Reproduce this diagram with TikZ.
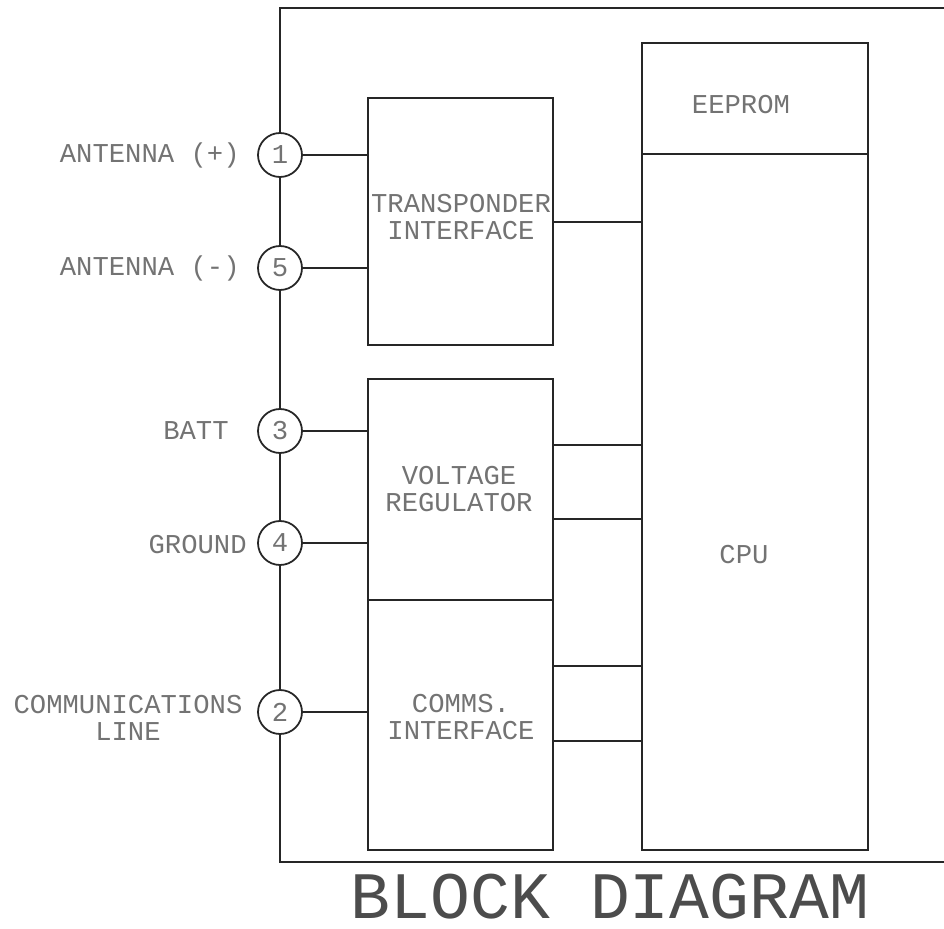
\documentclass[tikz,border=0pt]{standalone}
\usepackage{fontspec}
\setmonofont{Liberation Mono}
\usetikzlibrary{fit}
\newcommand{\dgmfont}{\ttfamily\fontsize{15.5pt}{15.4pt}\selectfont}
\newcommand{\ttlfont}{\ttfamily\fontsize{37.8pt}{40pt}\selectfont}
\tikzset{
  wire/.style={line width=1pt, black!85},
  blk/.style={draw=black!85, line width=1pt, inner sep=0pt},
  term/.style={draw=black!85, circle, fill=white, line width=1pt, minimum size=0.88cm, inner sep=0pt, text=black!55, font=\dgmfont},
  lbl/.style={text=black!55, font=\dgmfont, align=center, inner sep=0pt}
}
\begin{document}
\begin{tikzpicture}[x=0.02cm,y=-0.02cm]
\useasboundingbox (0,0) rectangle (944,929);
% case outline
\draw[wire] (944,8) -- (280,8) -- (280,862) -- (944,862);
% blocks
\node[blk, fit={(368,98) (553,345)}] (tr) {};
\node[blk, fit={(368,379) (553,600)}] (vr) {};
\node[blk, fit={(368,600) (553,850)}] (cm) {};
\node[blk, fit={(642,43) (868,154)}] (eep) {};
\node[blk, fit={(642,154) (868,850)}] (cpu) {};
\node[lbl] (trtxt) at (461,217) {TRANSPONDER\\INTERFACE};
\node[lbl] (vrtxt) at (459,489) {VOLTAGE\\REGULATOR};
\node[lbl] (cmtxt) at (461,717) {COMMS.\\INTERFACE};
\node[lbl] (eeptxt) at (741,105) {EEPROM};
\node[lbl] (cputxt) at (744,555) {CPU};
% terminals
\node[term] (p1) at (280,155) {1};
\node[term] (p5) at (280,268) {5};
\node[term] (p3) at (280,431) {3};
\node[term] (p4) at (280,543) {4};
\node[term] (p2) at (280,712) {2};
\node[lbl, anchor=east] (l1) at (240,155) {ANTENNA (+)};
\node[lbl, anchor=east] (l5) at (240,268) {ANTENNA (-)};
\node[lbl, anchor=east] (l3) at (229,431) {BATT};
\node[lbl, anchor=east] (l4) at (247,545) {GROUND};
\node[lbl] (l2) at (128,718) {COMMUNICATIONS\\LINE};
% wiring
\draw[wire] (p1) -- (p1 -| tr.west);
\draw[wire] (p5) -- (p5 -| tr.west);
\draw[wire] (p3) -- (p3 -| vr.west);
\draw[wire] (p4) -- (p4 -| vr.west);
\draw[wire] (p2) -- (p2 -| cm.west);
\draw[wire] (tr.east |- 0,222) -- (cpu.west |- 0,222);
\draw[wire] (vr.east |- 0,445) -- (cpu.west |- 0,445);
\draw[wire] (vr.east |- 0,519) -- (cpu.west |- 0,519);
\draw[wire] (cm.east |- 0,666) -- (cpu.west |- 0,666);
\draw[wire] (cm.east |- 0,741) -- (cpu.west |- 0,741);
\node[font=\ttlfont, text=black!70, inner sep=0pt] (title) at (610,897) {BLOCK DIAGRAM};
\end{tikzpicture}
\end{document}
